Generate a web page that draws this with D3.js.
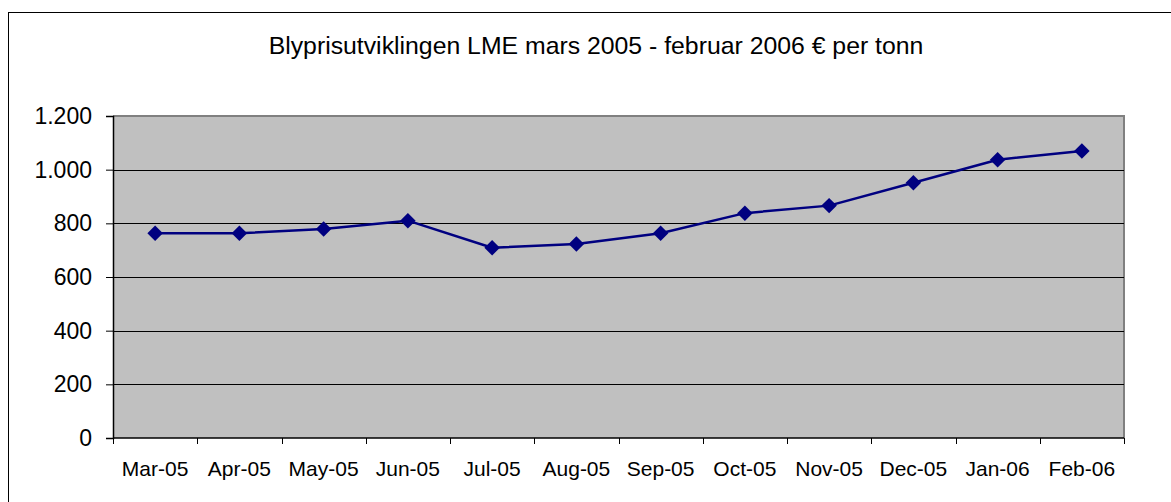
<!DOCTYPE html>
<html>
<head>
<meta charset="utf-8">
<script src="https://cdn.jsdelivr.net/npm/d3@7"></script>
<style>
  html, body { margin: 0; padding: 0; background: #fff; }
  svg { display: block; font-family: "Liberation Sans", Arial, sans-serif; }
</style>
</head>
<body>
<svg id="chart" width="1171" height="502"></svg>
<script>
const title = "Blyprisutviklingen LME mars 2005 - februar 2006 € per tonn";
const categories = ["Mar-05", "Apr-05", "May-05", "Jun-05", "Jul-05", "Aug-05", "Sep-05", "Oct-05", "Nov-05", "Dec-05", "Jan-06", "Feb-06"];
const prices = [763, 763, 779, 810, 709, 723, 763, 838, 866, 951, 1037, 1070];
const yTicks = [0, 200, 400, 600, 800, 1000, 1200];
const yTickLabels = ["0", "200", "400", "600", "800", "1.000", "1.200"];

const svg = d3.select("#chart");
const m = { left: 113, top: 116, right: 1124, bottom: 438 };

// outer chart border
svg.append("rect")
  .attr("x", 8.5).attr("y", 12.5)
  .attr("width", 1200).attr("height", 600)
  .attr("fill", "#fff").attr("stroke", "#000").attr("stroke-width", 1);

svg.append("text")
  .attr("x", 596).attr("y", 54)
  .attr("text-anchor", "middle")
  .attr("font-size", 24.8)
  .attr("fill", "#000")
  .text(title);

const x = d3.scaleBand().domain(categories).range([m.left, m.right]);
const y = d3.scaleLinear().domain([0, 1200]).range([m.bottom, m.top]);

// plot area
svg.append("rect")
  .attr("x", m.left).attr("y", m.top)
  .attr("width", m.right - m.left).attr("height", m.bottom - m.top)
  .attr("fill", "#c0c0c0");

// top & right gray border
svg.append("path")
  .attr("d", `M${m.left},${m.top} H${m.right} V${m.bottom}`)
  .attr("fill", "none").attr("stroke", "#808080").attr("stroke-width", 2);

// gridlines
svg.append("g").selectAll("line")
  .data(yTicks.filter(v => v > 0 && v < 1200))
  .join("line")
  .attr("x1", m.left).attr("x2", m.right)
  .attr("y1", d => Math.round(y(d)) + 0.5).attr("y2", d => Math.round(y(d)) + 0.5)
  .attr("stroke", "#000").attr("stroke-width", 1);

// y axis
const yAxis = d3.axisLeft(y).tickValues(yTicks)
  .tickFormat((d, i) => yTickLabels[i]).tickSize(7).tickPadding(14);
const gy = svg.append("g").attr("transform", `translate(${m.left},0)`).call(yAxis);
gy.select(".domain").attr("stroke", "#000").attr("stroke-width", 1.5);
gy.selectAll(".tick line").attr("stroke", "#000");
gy.selectAll("text").attr("font-size", 23).attr("fill", "#000")
  .attr("font-family", "Liberation Sans, Arial, sans-serif");

// x axis with ticks at category boundaries
const gx = svg.append("g").attr("transform", `translate(0,${m.bottom})`);
gx.append("line").attr("x1", m.left).attr("x2", m.right).attr("y1", 0).attr("y2", 0)
  .attr("stroke", "#000").attr("stroke-width", 1.5);
const bounds = categories.map(c => x(c)).concat([m.right]);
gx.selectAll("line.tk").data(bounds).join("line").attr("class", "tk")
  .attr("x1", d => Math.round(d) + 0.5).attr("x2", d => Math.round(d) + 0.5)
  .attr("y1", 0).attr("y2", 6).attr("stroke", "#000");
gx.selectAll("text").data(categories).join("text")
  .attr("x", d => x(d) + x.bandwidth() / 2)
  .attr("y", 38)
  .attr("text-anchor", "middle")
  .attr("font-size", 21)
  .attr("fill", "#000")
  .text(d => d);

// line
const cx = d => x(d) + x.bandwidth() / 2;
const line = d3.line().x((d, i) => cx(categories[i])).y(d => y(d));
svg.append("path").datum(prices)
  .attr("d", line).attr("fill", "none")
  .attr("stroke", "#000080").attr("stroke-width", 2.5).attr("stroke-linejoin", "round");

// diamond markers
const diamond = d3.symbol().type(d3.symbolSquare).size(120);
svg.append("g").selectAll("path").data(prices).join("path")
  .attr("d", diamond)
  .attr("transform", (d, i) => `translate(${cx(categories[i])},${y(d)}) rotate(45)`)
  .attr("fill", "#000080");
</script>
</body>
</html>
